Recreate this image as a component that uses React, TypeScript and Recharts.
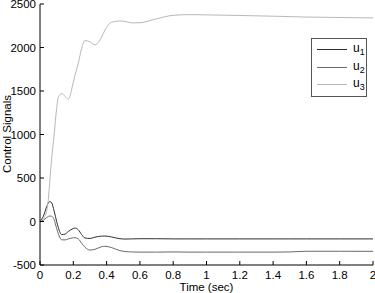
import React from 'react';
import { LineChart, Line, XAxis, YAxis, Label } from 'recharts';

const time = [0, 0.02, 0.04, 0.05, 0.06, 0.07, 0.085, 0.1, 0.11, 0.13, 0.15, 0.17, 0.2, 0.21, 0.23, 0.25, 0.27, 0.3, 0.33, 0.37, 0.39, 0.43, 0.48, 0.51, 0.55, 0.6, 0.7, 0.8, 0.9, 1.0, 1.2, 1.4, 1.5, 1.6, 1.8, 2.0];
const u1 = [0, 60, 170, 215, 228, 215, 120, 0, -70, -150, -145, -115, -80, -75, -95, -150, -190, -195, -180, -168, -167, -178, -198, -202, -200, -198, -198, -200, -200, -200, -200, -200, -200, -200, -200, -200];
const u2 = [0, 15, 45, 58, 63, 60, 20, -80, -140, -210, -212, -200, -187, -186, -200, -250, -295, -328, -320, -290, -285, -300, -335, -345, -350, -352, -352, -350, -352, -352, -352, -352, -350, -342, -342, -343];
const u3 = [0, 30, 120, 250, 500, 720, 1000, 1300, 1430, 1470, 1440, 1408, 1600, 1680, 1820, 1990, 2080, 2065, 2030, 2120, 2200, 2290, 2305, 2300, 2283, 2285, 2330, 2370, 2378, 2375, 2368, 2360, 2355, 2350, 2345, 2340];

const xTicks = [0, 0.2, 0.4, 0.6, 0.8, 1, 1.2, 1.4, 1.6, 1.8, 2];
const yTicks = [-500, 0, 500, 1000, 1500, 2000, 2500];

const series = [
  { key: 'u1', sub: '1', color: '#303030' },
  { key: 'u2', sub: '2', color: '#6a6a6a' },
  { key: 'u3', sub: '3', color: '#b8b8b8' },
];

const data = time.map((t, i) => ({ t, u1: u1[i], u2: u2[i], u3: u3[i] }));

const font = 'Arial, "Liberation Sans", sans-serif';

const BottomTick = (props: any) => {
  const { x, y, payload } = props;
  return (
    <g>
      <line x1={x} y1={y - 10} x2={x} y2={y - 14} stroke="#000" />
      <text x={x} y={y} dy={4} textAnchor="middle" fontSize={11.5} fontFamily={font} fill="#000">
        {payload.value}
      </text>
    </g>
  );
};

const LeftTick = (props: any) => {
  const { x, y, payload } = props;
  return (
    <g>
      <line x1={x + 4} y1={y} x2={x + 8} y2={y} stroke="#000" />
      <text x={x} y={y} dy={4} textAnchor="end" fontSize={11.5} fontFamily={font} fill="#000">
        {payload.value}
      </text>
    </g>
  );
};

const TopTick = (props: any) => {
  const { x, y } = props;
  return <line x1={x} y1={y} x2={x} y2={y + 4} stroke="#000" />;
};

const RightTick = (props: any) => {
  const { x, y } = props;
  return <line x1={x} y1={y} x2={x - 4} y2={y} stroke="#000" />;
};

const LegendBox = () => (
  <div
    style={{
      position: 'absolute',
      left: 311,
      top: 38,
      border: '1px solid #555',
      background: '#fff',
      width: 54,
      padding: '2px 0 2px 0',
      fontFamily: font,
      fontSize: 12,
      lineHeight: '12px',
    }}
  >
    {series.map((s) => (
      <div key={s.key} style={{ display: 'flex', alignItems: 'center', height: 17.5 }}>
        <div style={{ width: 30, height: 1, background: s.color, marginLeft: 5, marginRight: 6 }} />
        <span>
          u<sub style={{ fontSize: 9, lineHeight: '9px' }}>{s.sub}</sub>
        </span>
      </div>
    ))}
  </div>
);

export default function App() {
  return (
    <div style={{ position: 'absolute', left: 0, top: 0, width: 375, height: 293, background: '#fff' }}>
      <LineChart width={375} height={293} data={data} margin={{ top: 4, right: 2, bottom: 0, left: 0 }}>
        <XAxis
          dataKey="t"
          type="number"
          domain={[0, 2]}
          ticks={xTicks}
          height={28}
          tickSize={0}
          tickMargin={10}
          tickLine={false}
          axisLine={{ stroke: '#000' }}
          tick={<BottomTick />}
          interval={0}
        >
          <Label value="Time (sec)" position="insideBottom" offset={2} fontSize={11.5} fontFamily={font} fill="#000" />
        </XAxis>
        <XAxis
          xAxisId="top"
          dataKey="t"
          type="number"
          orientation="top"
          domain={[0, 2]}
          ticks={xTicks}
          height={0}
          tickSize={0}
          tickMargin={0}
          tickLine={false}
          axisLine={{ stroke: '#000' }}
          tick={<TopTick />}
          interval={0}
        />
        <YAxis
          type="number"
          domain={[-500, 2500]}
          ticks={yTicks}
          width={40}
          tickSize={0}
          tickMargin={4}
          tickLine={false}
          axisLine={{ stroke: '#000' }}
          tick={<LeftTick />}
          interval={0}
        >
          <Label
            content={() => (
              <text
                x={11}
                y={134}
                transform="rotate(-90 11 134)"
                textAnchor="middle"
                fontSize={11.5}
                fontFamily={font}
                fill="#000"
              >
                Control Signals
              </text>
            )}
          />
        </YAxis>
        <YAxis
          yAxisId="right"
          type="number"
          orientation="right"
          domain={[-500, 2500]}
          ticks={yTicks}
          width={0}
          tickSize={0}
          tickMargin={0}
          tickLine={false}
          axisLine={{ stroke: '#000' }}
          tick={<RightTick />}
          interval={0}
        />
        {series.map((s) => (
          <Line
            key={s.key}
            dataKey={s.key}
            type="monotone"
            stroke={s.color}
            strokeWidth={1}
            dot={false}
            isAnimationActive={false}
          />
        ))}
      </LineChart>
      <LegendBox />
    </div>
  );
}
